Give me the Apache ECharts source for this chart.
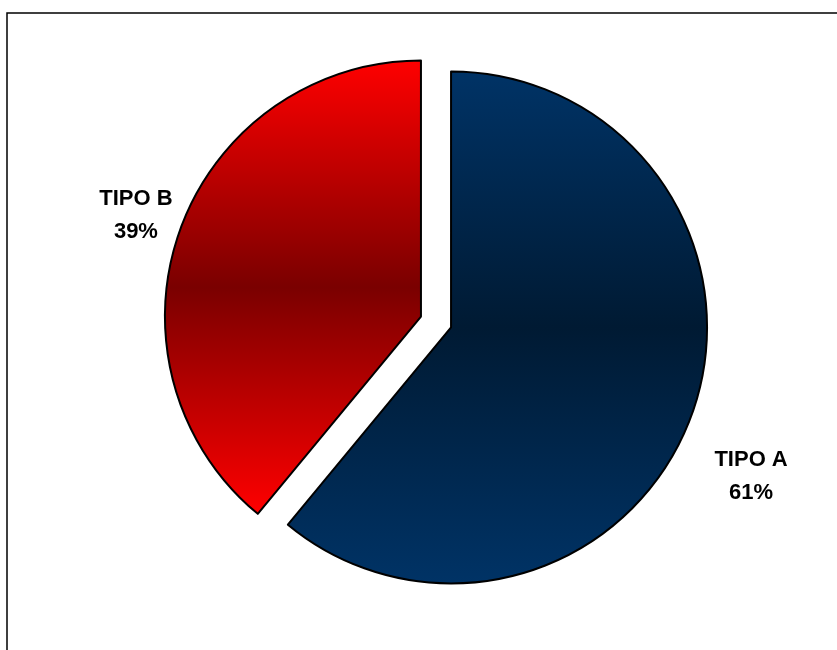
<!DOCTYPE html>
<html>
<head>
<meta charset="utf-8">
<script src="https://cdn.jsdelivr.net/npm/echarts@6/dist/echarts.min.js"></script>
<style>
  html, body { margin: 0; padding: 0; background: #ffffff; }
  #chart { width: 837px; height: 650px; }
</style>
</head>
<body>
<div id="chart"></div>
<script>
// Share of each type
const categories = ['TIPO A', 'TIPO B'];
const values = [61, 39];

// Vertical shading for each slice: edge colour, centre colour
const sliceEdgeColors = ['#003366', '#ff0000'];
const sliceCenterColors = ['#001a33', '#7a0000'];

// Extra distance of each label from the rim, and small nudges
const labelDistance = [48, 48];
const labelNudgeX = [9, 6];
const labelNudgeY = [46, 2];

const chart = echarts.init(document.getElementById('chart'), null, { renderer: 'canvas' });

const pieData = categories.map((name, i) => ({
  name: name,
  value: values[i],
  selected: true,
  itemStyle: {
    color: new echarts.graphic.LinearGradient(0, 0, 0, 1, [
      { offset: 0, color: sliceEdgeColors[i] },
      { offset: 0.5, color: sliceCenterColors[i] },
      { offset: 1, color: sliceEdgeColors[i] }
    ])
  },
  labelLine: { show: false, length: labelDistance[i], length2: 0 }
}));

chart.setOption({
  animation: false,
  backgroundColor: '#ffffff',
  graphic: [{
    type: 'polyline',
    shape: { points: [[7, 650], [7, 13], [837, 13]] },
    style: { stroke: '#000000', lineWidth: 1.5, fill: null },
    silent: true
  }],
  series: [{
    type: 'pie',
    center: [436, 322],
    radius: [0, 256],
    startAngle: 90,
    clockwise: true,
    selectedMode: 'multiple',
    selectedOffset: 16,
    avoidLabelOverlap: false,
    emphasis: { disabled: true },
    itemStyle: { borderColor: '#000000', borderWidth: 2 },
    label: {
      show: true,
      position: 'outside',
      formatter: '{t|{b}}\n{t|{c}%}',
      rich: {
        t: {
          align: 'center',
          fontFamily: '"Liberation Sans", Arial, sans-serif',
          fontWeight: 'bold',
          fontSize: 22,
          lineHeight: 33,
          color: '#000000'
        }
      }
    },
    labelLine: { show: false },
    labelLayout: function (params) {
      return {
        align: 'center',
        verticalAlign: 'middle',
        dx: labelNudgeX[params.dataIndex],
        dy: labelNudgeY[params.dataIndex]
      };
    },
    data: pieData
  }]
});
</script>
</body>
</html>
